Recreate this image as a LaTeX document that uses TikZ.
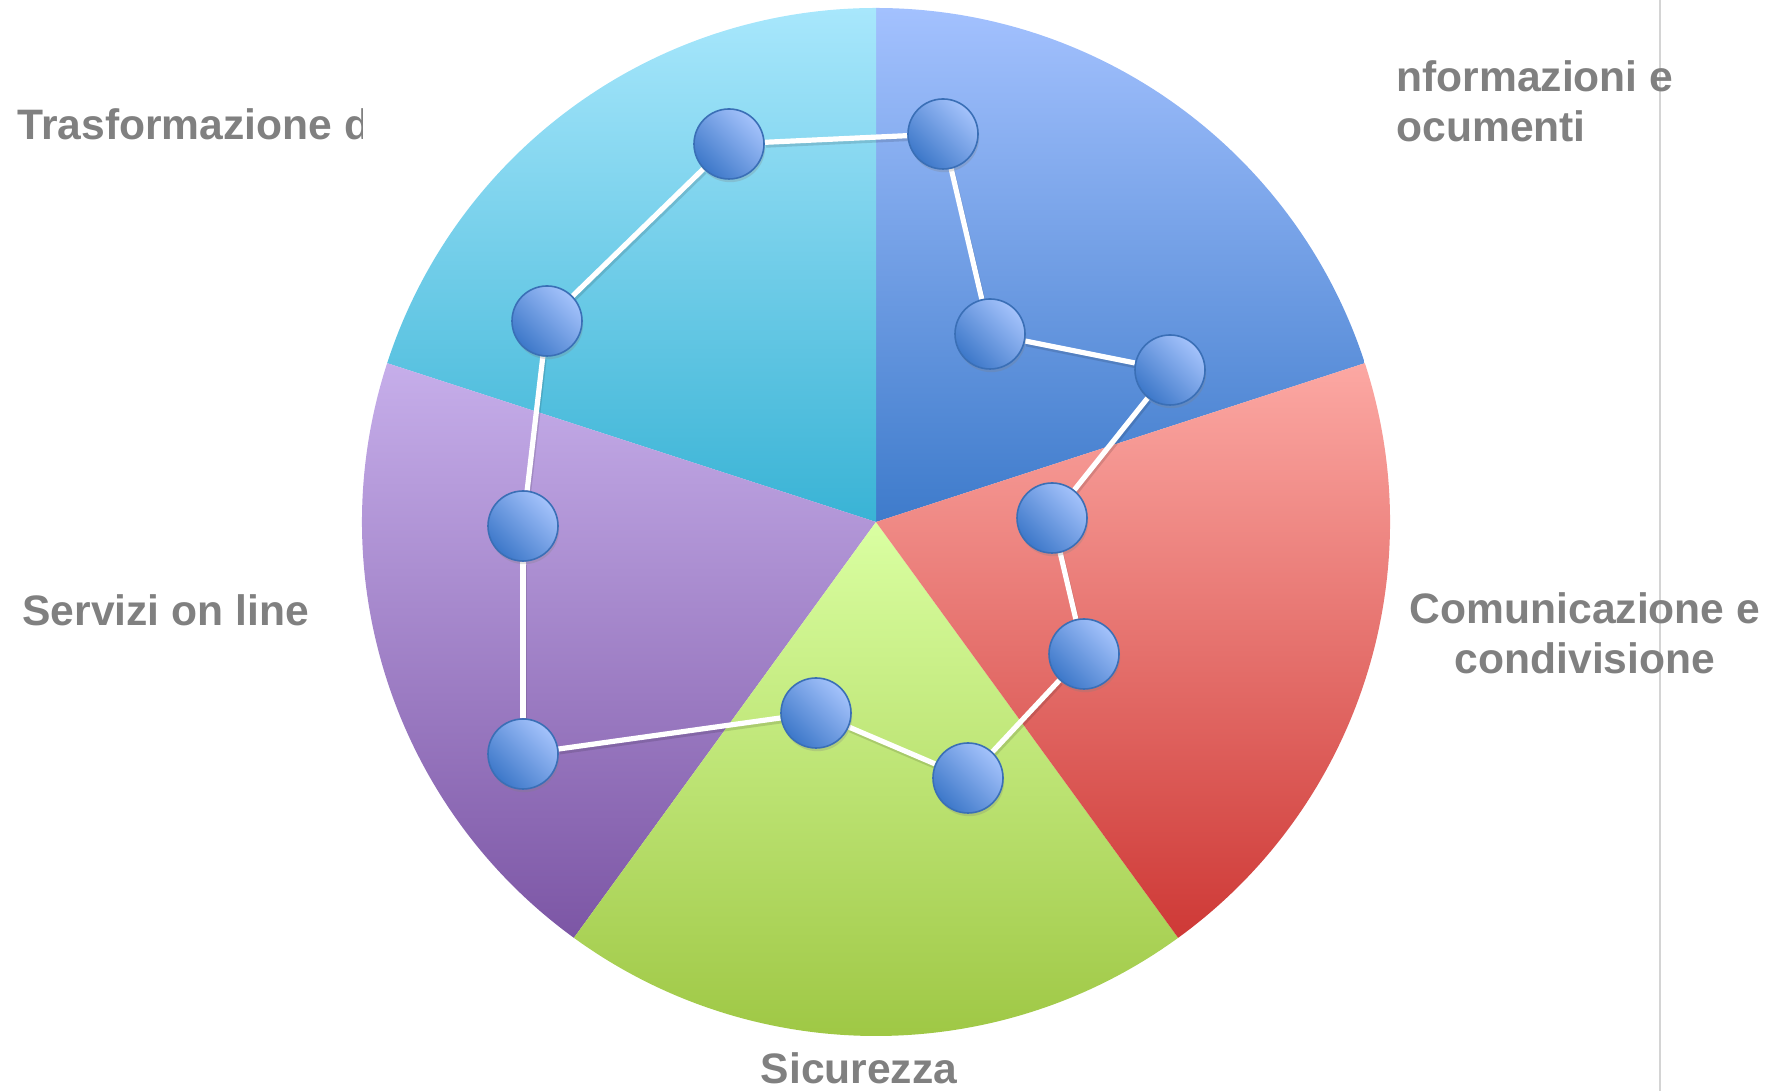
\documentclass[tikz,border=0pt]{standalone}
\usepackage{fontspec}
\setmainfont{Liberation Sans}
\usetikzlibrary{shadows}
\pgfdeclarelayer{sectors}
\pgfdeclarelayer{edges}
\pgfsetlayers{sectors,edges,main}
\definecolor{bluetop}{HTML}{A3C1FE}
\definecolor{bluebot}{HTML}{3E7BCB}
\definecolor{cyantop}{HTML}{A8E7FC}
\definecolor{cyanbot}{HTML}{39B3D5}
\definecolor{purptop}{HTML}{C6AEEA}
\definecolor{purpbot}{HTML}{7C56A5}
\definecolor{greentop}{HTML}{DAFFA2}
\definecolor{greenbot}{HTML}{9BC43F}
\definecolor{redtop}{HTML}{FCA8A3}
\definecolor{redbot}{HTML}{CE3936}
\definecolor{dotlight}{HTML}{A4C2FB}
\definecolor{dotdark}{HTML}{3D78C9}
\definecolor{dotborder}{HTML}{3A6FB6}
\definecolor{labelgray}{HTML}{808080}
\definecolor{sepgray}{HTML}{D4D4D4}
\tikzset{
  dot/.style={circle, minimum size=35pt, inner sep=0pt, draw=dotborder, line width=0.8pt,
    top color=dotlight, bottom color=dotdark, shading angle=-45,
    drop shadow={opacity=0.25, shadow xshift=0.6pt, shadow yshift=-1.6pt}},
  link/.style={draw=white, line width=2.6pt},
  linkshadow/.style={draw=black, opacity=0.12, line width=2.6pt},
  lbl/.style={text=labelgray, font=\fontsize{21.3}{25}\selectfont\bfseries, inner sep=0pt},
  sepline/.style={draw=sepgray, line width=1pt}
}
\begin{document}
\begin{tikzpicture}[x=0.5pt,y=0.5pt]
\useasboundingbox (0,0) rectangle (1777,1091);
\coordinate (c) at (876,569);
\begin{pgfonlayer}{sectors}
  \shade[top color=bluetop, bottom color=bluebot] (c) -- ++(18:514) arc[start angle=18, end angle=90, radius=514] -- cycle;
  \shade[top color=cyantop, bottom color=cyanbot] (c) -- ++(90:514) arc[start angle=90, end angle=162, radius=514] -- cycle;
  \shade[top color=purptop, bottom color=purpbot] (c) -- ++(162:514) arc[start angle=162, end angle=234, radius=514] -- cycle;
  \shade[top color=greentop, bottom color=greenbot] (c) -- ++(234:514) arc[start angle=234, end angle=306, radius=514] -- cycle;
  \shade[top color=redtop, bottom color=redbot] (c) -- ++(-54:514) arc[start angle=-54, end angle=18, radius=514] -- cycle;
\end{pgfonlayer}

% separator line
\coordinate (septop) at (1660,1091);
\coordinate (sepbot) at (1660,0);
\draw[sepline] (septop) -- (sepbot);

% nodes
\node[dot] (n1) at (729,947) {};
\node[dot] (n2) at (943,957) {};
\node[dot] (n3) at (990,757) {};
\node[dot] (n4) at (1170,721) {};
\node[dot] (n5) at (1052,573) {};
\node[dot] (n6) at (1084,437) {};
\node[dot] (n7) at (968,313) {};
\node[dot] (n8) at (816,378) {};
\node[dot] (n9) at (523,337) {};
\node[dot] (n10) at (523,565) {};
\node[dot] (n11) at (547,770) {};

\begin{pgfonlayer}{edges}
  \foreach \a/\b in {n1/n2,n2/n3,n3/n4,n4/n5,n5/n6,n6/n7,n7/n8,n8/n9,n9/n10,n10/n11,n11/n1}{
    \draw[linkshadow, transform canvas={shift={(0.6pt,-1.4pt)}}] (\a) -- (\b);
    \draw[link] (\a) -- (\b);
  }
\end{pgfonlayer}

% labels
\begin{scope}
  \clip (0,0) rectangle (362,1091);
  \node[lbl, anchor=base west] (lblTras) at (17,951) {Trasformazione d};
\end{scope}
\node[lbl, anchor=base west] (lblInfoA) at (1396,999) {nformazioni e};
\node[lbl, anchor=base west] (lblInfoB) at (1396,949) {ocumenti};
\node[lbl, anchor=base] (lblComA) at (1585,467) {Comunicazione e};
\node[lbl, anchor=base] (lblComB) at (1585,417) {condivisione};
\node[lbl, anchor=base west] (lblServ) at (22,465) {Servizi on line};
\node[lbl, anchor=base] (lblSic) at (859,7) {Sicurezza};
\end{tikzpicture}
\end{document}
